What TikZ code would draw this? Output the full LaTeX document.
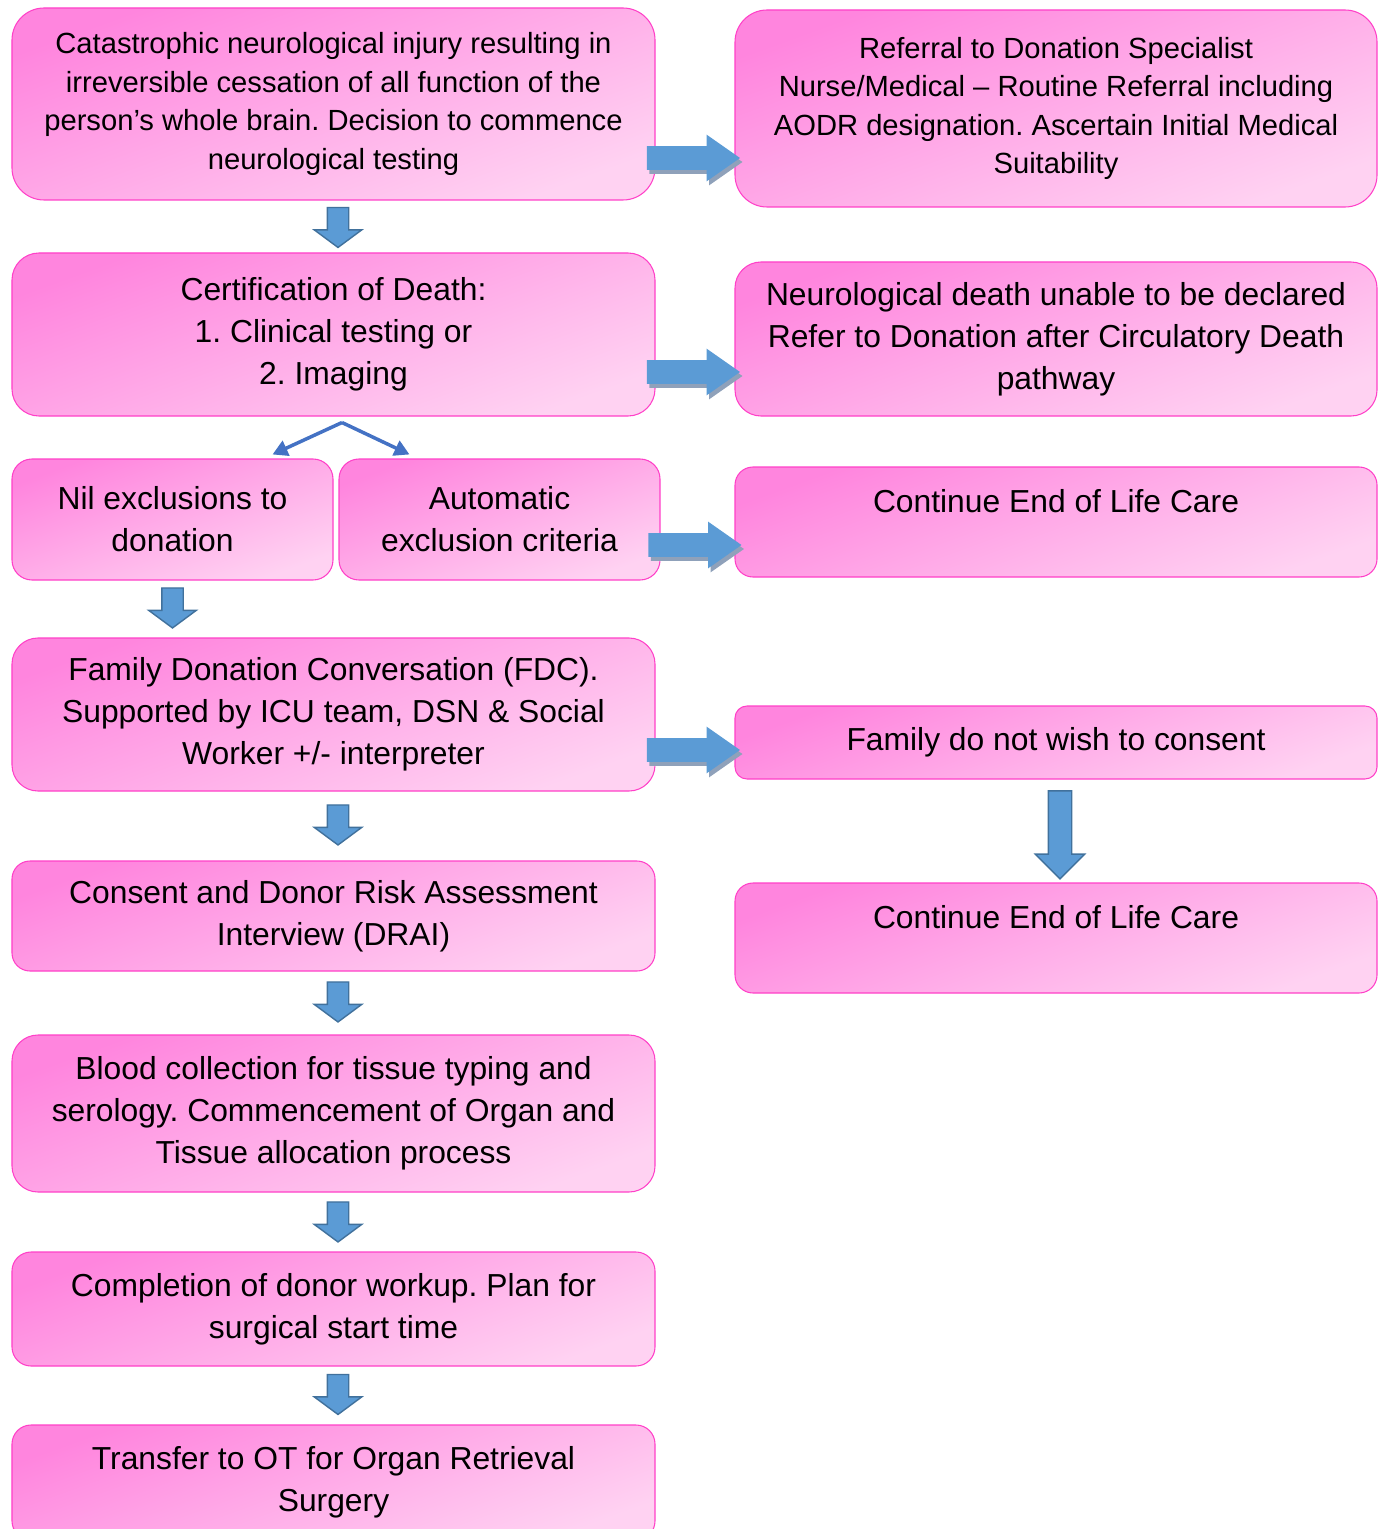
\documentclass[tikz,border=0pt]{standalone}
\usepackage{fontspec}
\setmainfont{Liberation Sans}
\usetikzlibrary{arrows.meta,shapes.arrows,shadows,calc}
\frenchspacing

\definecolor{boxtop}{HTML}{FF85DE}
\definecolor{boxbot}{HTML}{FFD2F2}
\definecolor{boxline}{HTML}{FF40C8}
\definecolor{arrowfill}{HTML}{5B9BD5}
\definecolor{arrowline}{HTML}{41719C}
\definecolor{arrowshade}{HTML}{8FA1BA}
\definecolor{splitblue}{HTML}{4472C4}

\begin{document}
\begin{tikzpicture}[>=Latex,
  box/.style={draw=boxline,line width=0.6pt,rounded corners=#1,top color=boxtop,bottom color=boxbot,shading angle=20,align=center,inner sep=2pt},
  box/.default=0.5cm,
  smalltxt/.style={font=\fontsize{16.6}{21.9}\selectfont},
  bigtxt/.style={font=\fontsize{18.1}{23.9}\selectfont},
  downarrow/.style={single arrow,draw=arrowline,line width=0.8pt,fill=arrowfill,inner sep=0pt,inner ysep=0.2cm,single arrow head extend=0.26cm,single arrow head indent=0pt,single arrow tip angle=107,minimum width=0.92cm,minimum height=0.8cm,sloped},
  rightarrow/.style={single arrow,fill=arrowfill,inner sep=0pt,inner ysep=0.23cm,single arrow head extend=0.23cm,single arrow head indent=0pt,single arrow tip angle=70,minimum width=0.92cm,minimum height=1.86cm,drop shadow={shadow xshift=0.05cm,shadow yshift=-0.08cm,fill=arrowshade,opacity=1}},
  splitline/.style={draw=splitblue,line width=2pt,-{Triangle[length=0.3cm,width=0.32cm]}}]
\useasboundingbox (0,0) rectangle (27.62,-30.58);

\node[box=0.64cm,smalltxt,minimum width=12.86cm,minimum height=3.84cm] (b1) at (6.67,-2.08) {Catastrophic neurological injury resulting in\\irreversible cessation of all function of the\\person’s whole brain. Decision to commence\\neurological testing};
\node[box=0.64cm,smalltxt,minimum width=12.84cm,minimum height=3.94cm] (r1) at (21.12,-2.17) {Referral to Donation Specialist\\Nurse/Medical -- Routine Referral including\\AODR designation. Ascertain Initial Medical\\Suitability};
\node[box=0.54cm,bigtxt,minimum width=12.86cm,minimum height=3.26cm] (b2) at (6.67,-6.69) {Certification of Death:\\1. Clinical testing or\\2. Imaging};
\node[box=0.52cm,bigtxt,minimum width=12.84cm,minimum height=3.08cm] (r2) at (21.12,-6.78) {Neurological death unable to be declared\\Refer to Donation after Circulatory Death\\pathway};
\node[box=0.4cm,bigtxt,minimum width=6.42cm,minimum height=2.42cm] (b3a) at (3.45,-10.39) {Nil exclusions to\\donation};
\node[box=0.4cm,bigtxt,minimum width=6.42cm,minimum height=2.42cm] (b3b) at (9.99,-10.39) {Automatic\\exclusion criteria};
\node[box=0.36cm,bigtxt,minimum width=12.84cm,minimum height=2.2cm] (r3) at (21.12,-10.44) {Continue End of Life Care\\~};
\node[box=0.52cm,bigtxt,minimum width=12.86cm,minimum height=3.06cm] (b4) at (6.67,-14.29) {Family Donation Conversation (FDC).\\Supported by ICU team, DSN \& Social\\Worker +/- interpreter};
\node[box=0.24cm,bigtxt,minimum width=12.84cm,minimum height=1.46cm] (r4) at (21.12,-14.85) {Family do not wish to consent};
\node[box=0.36cm,bigtxt,minimum width=12.84cm,minimum height=2.2cm] (r5) at (21.12,-18.76) {Continue End of Life Care\\~};
\node[box=0.36cm,bigtxt,minimum width=12.86cm,minimum height=2.2cm] (b5) at (6.67,-18.32) {Consent and Donor Risk Assessment\\Interview (DRAI)};
\node[box=0.52cm,bigtxt,minimum width=12.86cm,minimum height=3.14cm] (b6) at (6.67,-22.27) {Blood collection for tissue typing and\\serology. Commencement of Organ and\\Tissue allocation process};
\node[box=0.38cm,bigtxt,minimum width=12.86cm,minimum height=2.28cm] (b7) at (6.67,-26.18) {Completion of donor workup. Plan for\\surgical start time};
\node[box=0.38cm,bigtxt,minimum width=12.86cm,minimum height=2.3cm] (b8) at (6.67,-29.65) {Transfer to OT for Organ Retrieval\\Surgery};

\path ([xshift=0.09cm,yshift=0.06cm]b1.south) -- ([xshift=0.09cm,yshift=0.06cm]b2.north) node[midway,downarrow] {};
\path ([yshift=0.1cm]b3a.south) -- ([yshift=0.1cm]b3a.south |- b4.north) node[midway,downarrow] {};
\path ([xshift=0.09cm,yshift=0.1cm]b4.south) -- ([xshift=0.09cm,yshift=0.1cm]b5.north) node[midway,downarrow] {};
\path ([xshift=0.09cm,yshift=0.1cm]b5.south) -- ([xshift=0.09cm,yshift=0.1cm]b6.north) node[midway,downarrow] {};
\path ([xshift=0.09cm,yshift=0.08cm]b6.south) -- ([xshift=0.09cm,yshift=0.08cm]b7.north) node[midway,downarrow] {};
\path ([xshift=0.09cm,yshift=0.1cm]b7.south) -- ([xshift=0.09cm,yshift=0.1cm]b8.north) node[midway,downarrow] {};
\path ([xshift=0.08cm,yshift=0.04cm]r4.south) -- ([xshift=0.08cm,yshift=0.04cm]r5.north) node[midway,downarrow,minimum height=1.76cm,inner ysep=0.22cm,single arrow tip angle=90] {};

\coordinate (a1) at ([xshift=-0.4cm,yshift=-1.08cm]b1.east);
\coordinate (a2) at ([xshift=-0.4cm,yshift=-0.75cm]b2.east);
\coordinate (a3) at ([xshift=-0.44cm,yshift=-0.51cm]b3b.east);
\coordinate (a4) at ([xshift=-0.4cm,yshift=-0.71cm]b4.east);
\path (a1) -- (a1 -| r1.west) node[midway,rightarrow] {};
\path (a2) -- (a2 -| r2.west) node[midway,rightarrow] {};
\path (a3) -- (a3 -| r3.west) node[midway,rightarrow] {};
\path (a4) -- (a4 -| r4.west) node[midway,rightarrow] {};

\coordinate (split) at ([xshift=0.17cm,yshift=-0.12cm]b2.south);
\draw[splitline] (split) -- ([xshift=-1.22cm,yshift=0.08cm]b3a.north east);
\draw[splitline] (split) -- ([xshift=1.42cm,yshift=0.08cm]b3b.north west);
\end{tikzpicture}
\end{document}
